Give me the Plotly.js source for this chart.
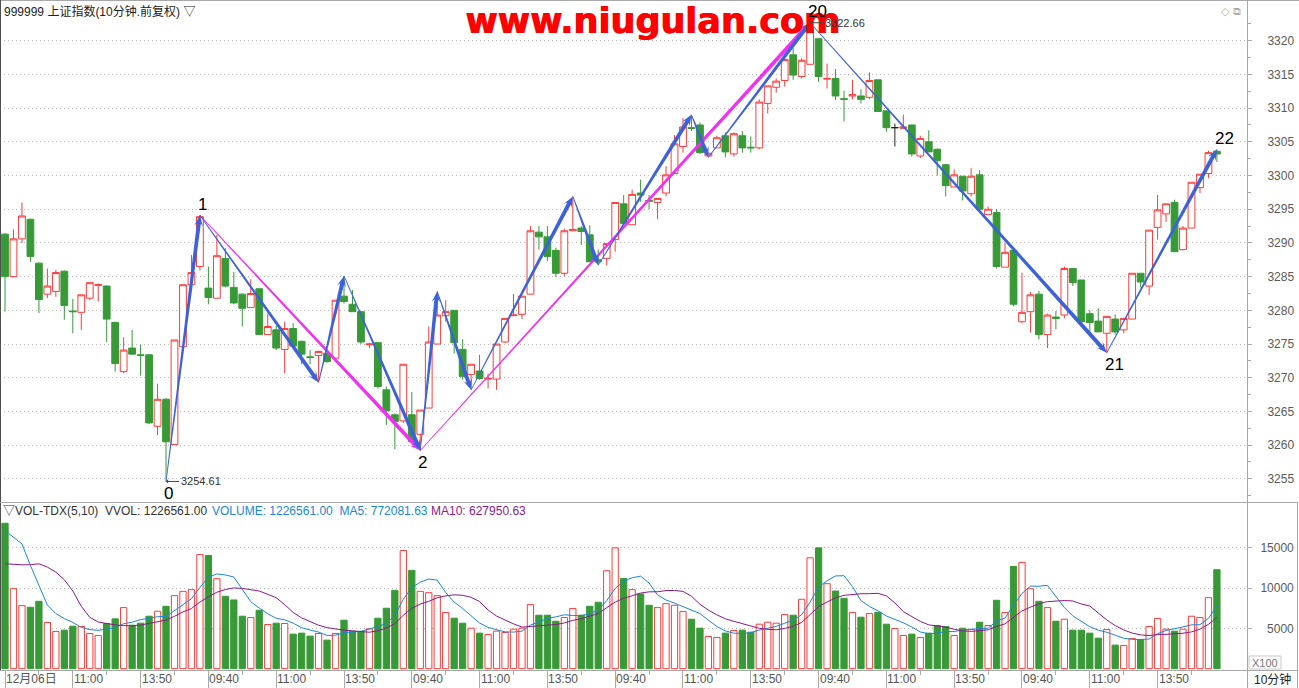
<!DOCTYPE html>
<html><head><meta charset="utf-8">
<script src="https://cdn.plot.ly/plotly-3.0.1.min.js"></script>
<style>html,body{margin:0;padding:0;background:#fff;overflow:hidden}#chart{width:1299px;height:688px}</style>
</head><body><div id="chart"></div>
<script>
// ---------------- data ----------------
const opens = [3291.3,3285.0,3290.6,3293.5,3287.0,3282.4,3282.8,3285.8,3279.9,3279.7,3281.8,3283.7,3283.6,3278.2,3270.9,3274.4,3273.4,3273.4,3262.8,3266.8,
3260.1,3274.6,3283.8,3286.5,3283.3,3281.8,3287.7,3283.4,3282.4,3280.4,3283.2,3276.4,3277.1,3274.2,3277.3,3275.4,3273.1,3273.3,3273.6,3272.9,
3282.1,3280.9,3279.8,3274.9,3275.2,3268.2,3264.5,3263.6,3264.5,3261.6,3265.5,3275.0,3279.2,3280.0,3274.2,3270.5,3271.0,3269.8,3269.8,3275.3,
3279.2,3279.4,3282.4,3291.6,3290.9,3288.9,3285.5,3291.8,3292.2,3291.2,3287.5,3287.7,3290.5,3295.8,3292.7,3297.4,3296.3,3296.0,3297.4,3300.3,
3304.3,3307.1,3307.5,3302.9,3304.1,3305.9,3303.2,3305.9,3304.2,3304.1,3310.7,3313.1,3314.1,3317.9,3314.7,3316.5,3320.3,3314.3,3314.4,3311.4,
3311.8,3311.8,3311.6,3314.2,3309.6,3307.1,3307.0,3307.5,3302.9,3305.0,3303.9,3301.6,3298.3,3299.9,3297.3,3300.1,3294.2,3294.5,3286.4,3288.9,
3278.3,3279.8,3282.4,3276.4,3279.0,3279.3,3286.2,3284.5,3279.5,3278.4,3276.6,3278.7,3277.1,3278.7,3285.5,3283.6,3292.3,3294.3,3296.0,3289.0,
3292.2,3298.2,3300.3,3303.6];
const highs = [3291.5,3292.0,3296.0,3293.6,3287.1,3286.2,3286.0,3285.9,3281.7,3282.3,3284.1,3284.0,3283.7,3278.3,3276.0,3277.1,3274.9,3273.5,3269.1,3267.0,
3275.6,3283.8,3288.2,3294.1,3286.5,3291.2,3289.2,3285.7,3282.5,3284.6,3283.2,3279.5,3277.7,3278.3,3278.1,3275.5,3274.1,3274.0,3273.6,3281.5,
3285.1,3283.0,3279.8,3275.2,3275.2,3268.7,3264.7,3272.0,3267.9,3265.2,3277.6,3282.8,3281.5,3280.0,3275.7,3272.0,3273.4,3270.6,3275.0,3278.8,
3282.4,3282.1,3292.5,3292.5,3292.5,3289.3,3292.1,3296.9,3292.5,3292.6,3289.0,3289.9,3296.0,3297.1,3297.9,3299.4,3297.1,3296.6,3301.4,3306.0,
3308.5,3309.0,3307.9,3303.4,3305.9,3306.4,3306.4,3306.6,3305.8,3311.3,3313.3,3314.4,3317.6,3319.0,3317.4,3322.66,3320.3,3316.6,3315.8,3312.6,
3314.2,3312.8,3315.3,3314.2,3309.6,3307.7,3309.0,3307.5,3305.9,3306.7,3304.0,3301.7,3300.9,3299.9,3301.1,3300.8,3295.4,3295.0,3290.0,3288.9,
3285.6,3282.7,3282.9,3279.5,3279.9,3286.5,3286.2,3284.5,3280.0,3280.3,3279.1,3279.4,3278.8,3285.5,3285.5,3291.9,3297.1,3295.8,3296.4,3292.5,
3299.0,3300.2,3303.7,3303.9];
const lows = [3279.8,3284.9,3290.0,3287.2,3279.6,3281.8,3282.0,3278.6,3276.6,3277.1,3281.5,3281.3,3275.3,3270.9,3270.7,3273.5,3270.3,3263.1,3261.5,3254.61,
3260.1,3274.6,3283.8,3285.9,3280.9,3281.8,3283.4,3280.9,3277.6,3280.4,3276.4,3276.4,3274.1,3270.7,3274.7,3272.0,3272.0,3269.3,3272.2,3272.9,
3281.0,3279.8,3275.0,3274.4,3268.4,3263.0,3259.4,3263.3,3260.3,3259.2,3265.5,3275.0,3278.3,3273.6,3269.7,3268.2,3269.7,3268.4,3268.2,3275.2,
3279.2,3278.7,3282.4,3289.0,3287.3,3284.9,3285.1,3291.8,3289.7,3287.2,3286.7,3286.7,3288.7,3292.9,3292.7,3296.1,3295.0,3293.5,3296.9,3300.3,
3303.4,3306.6,3303.2,3302.7,3304.1,3302.7,3302.8,3303.4,3303.4,3303.9,3309.2,3312.3,3313.2,3314.2,3314.4,3316.5,3313.9,3312.9,3311.2,3308.0,
3311.3,3310.7,3311.3,3309.5,3306.5,3304.3,3306.9,3302.8,3302.6,3303.5,3300.0,3296.9,3298.3,3296.3,3296.9,3295.0,3294.2,3286.2,3286.4,3280.6,
3278.1,3276.7,3275.7,3274.4,3277.2,3278.8,3283.6,3278.3,3276.8,3276.8,3273.7,3276.4,3276.6,3278.7,3283.4,3282.3,3290.5,3293.1,3288.7,3288.9,
3292.2,3297.4,3299.6,3302.0];
const closes = [3285.0,3290.6,3294.0,3288.0,3281.6,3283.6,3285.6,3280.7,3279.8,3282.3,3284.1,3283.8,3278.7,3272.1,3274.1,3273.5,3273.3,3263.3,3266.8,3260.5,
3275.6,3283.8,3285.6,3293.9,3281.9,3288.1,3283.6,3281.1,3280.3,3282.5,3276.4,3277.6,3274.4,3277.3,3274.7,3273.5,3273.0,3273.9,3272.4,3281.5,
3281.3,3279.8,3275.3,3275.0,3268.7,3265.1,3263.5,3272.0,3260.5,3265.2,3275.3,3279.3,3279.8,3275.2,3270.2,3272.0,3269.9,3269.9,3275.0,3278.8,
3279.3,3282.1,3291.8,3290.9,3288.0,3285.5,3291.8,3292.0,3291.7,3287.2,3287.2,3289.9,3296.0,3292.9,3297.2,3297.1,3296.2,3296.6,3300.1,3304.7,
3307.2,3307.0,3303.4,3303.3,3305.6,3303.5,3306.2,3304.1,3304.1,3310.9,3313.3,3314.0,3317.2,3314.9,3317.1,3322.0,3314.7,3314.4,3311.8,3311.3,
3312.0,3311.3,3314.1,3309.5,3307.1,3307.1,3307.2,3303.2,3305.5,3303.5,3302.2,3298.5,3300.1,3297.7,3299.9,3295.0,3295.0,3286.5,3288.6,3280.9,
3279.7,3282.3,3276.4,3279.3,3278.8,3286.2,3284.1,3278.3,3278.2,3276.8,3279.1,3276.8,3278.8,3285.5,3284.2,3291.9,3294.9,3295.8,3288.7,3292.2,
3299.0,3300.2,3303.4,3303.2];
// volume in units of 100 (axis "X100")
const volumes = [18024,9917,7819,7613,8353,5720,4609,4773,5267,5226,4362,4115,5596,6173,7572,5391,5638,6502,7119,7736,
9053,9588,9794,14156,14032,11152,8971,8518,6502,6337,7242,5473,5638,5596,4280,4403,4033,4362,3539,4362,
6008,4650,4609,4938,6255,7489,9711,14649,12180,9588,9423,9053,6954,6255,5638,5020,4403,4238,4650,4485,
4897,5020,7942,6625,6625,5884,6337,7448,6625,7736,8230,12139,14979,11193,9794,9259,7860,7572,8065,7860,
7078,6131,5020,3992,3868,4403,4732,4773,4527,5514,5761,5638,6707,6625,8600,13744,14979,10534,9629,8724,
6954,6378,6831,6996,5514,4979,4115,4280,3868,4403,5350,5226,4115,5020,4856,5761,5350,8477,6954,12674,
13168,9917,8353,7572,5884,6131,4773,4773,4403,3786,4856,2922,2881,3745,3621,5226,6214,4897,4650,4897,
6502,6337,8806,12266];
// moving-average values at the start of the window (prior bars are off-chart)
const volMa5Head = [17118,16295,15472,12798];
const volMa10Head = [13003,12921,12880,12880,13003,12592,11975,11028,9629];

const tickIdx = [0,8,16,24,32,40,48,56,64,72,80,88,96,104,112,120,128,136];
const tickLabels = ['12月06日','11:00','13:50','09:40','11:00','13:50','09:40','11:00','13:50','09:40','11:00','13:50','09:40','11:00','13:50','09:40','11:00','13:50'];
const priceTicks = [3255,3260,3265,3270,3275,3280,3285,3290,3295,3300,3305,3310,3315,3320];
const volTicks = [5000,10000,15000];
const volTickText = ['\u20075000','10000','15000'];

const bluePivots = [19,23,37,40,49,51,55,67,70,81,83,95,130,143];
const bluePivotKinds = ['L','H','L','H','L','H','L','H','L','H','L','H','L','H'];
const magentaPivots = [23,49,95];
const magentaPivotKinds = ['H','L','H'];
const waveLabelIdx = [19,23,49,95,130,143];
const waveLabelKinds = ['L','H','L','H','L','H'];
const waveLabels = ['0','1','2','20','21','22'];

const titleText = '999999 上证指数(10分钟.前复权) ▽';
const volHead1 = '▽VOL-TDX(5,10)  VVOL: 1226561.00';
const volHead2 = 'VOLUME: 1226561.00  MA5: 772081.63';
const volHead3 = 'MA10: 627950.63';
const watermark = 'www.niugulan.com';

// ---------------- geometry ----------------
const FW = 1299, FH = 688, ML = 0, MR = 52, MT = 0, MB = 18;
const PW = FW - ML - MR, PHT = FH - MT - MB; // plot area 1247 x 670
const priceBottomPx = 501, volTopPx = 503;
const xr = [-0.59, 146.55];
const pr = [3251.71, 3326.04];
const vr = [-165, 20538];
const pxX = px => px / PW;
const pxY = py => (PHT - py) / PHT;

const idx = opens.map((_, i) => i);
const RED = '#ff3b3b', GREEN = '#379a37', BLUE = '#3d62d8', MAG = '#f032f0';

function pick(arr, cond) { return arr.filter((_, i) => cond(i)); }
const isUp = i => closes[i] > opens[i];
const isDn = i => closes[i] < opens[i];
const isFlat = i => closes[i] === opens[i];

function candle(cond, name, incColor, incFill, decColor, decFill) {
  return {
    type: 'candlestick', name, xaxis: 'x', yaxis: 'y',
    x: pick(idx, cond), open: pick(opens, cond), high: pick(highs, cond), low: pick(lows, cond), close: pick(closes, cond),
    increasing: {line: {color: incColor, width: 1}, fillcolor: incFill},
    decreasing: {line: {color: decColor, width: 1}, fillcolor: decFill},
    whiskerwidth: 0, hoverinfo: 'skip', showlegend: false
  };
}

const volUp = i => closes[i] >= opens[i];
const volDn = i => closes[i] < opens[i];
function ma(n, head) {
  return volumes.map((v, i) => {
    if (i < head.length) return head[i];
    let s = 0; for (let k = i - n + 1; k <= i; k++) s += volumes[k];
    return s / n;
  });
}

const traces = [
  candle(isUp, 'up', RED, '#ffffff', RED, '#ffffff'),
  candle(isDn, 'down', GREEN, GREEN, GREEN, GREEN),
  candle(isFlat, 'flat', '#222222', '#222222', '#222222', '#222222'),
  {type: 'bar', xaxis: 'x', yaxis: 'y2', x: pick(idx, volUp), y: pick(volumes, volUp), width: 0.74,
   marker: {color: '#ffffff', line: {color: RED, width: 1}}, hoverinfo: 'skip', showlegend: false},
  {type: 'bar', xaxis: 'x', yaxis: 'y2', x: pick(idx, volDn), y: pick(volumes, volDn), width: 0.74,
   marker: {color: GREEN, line: {color: GREEN, width: 1}}, hoverinfo: 'skip', showlegend: false},
  {type: 'scatter', mode: 'lines', xaxis: 'x', yaxis: 'y2', x: idx, y: ma(5, volMa5Head),
   line: {color: '#1a86dc', width: 1}, hoverinfo: 'skip', showlegend: false},
  {type: 'scatter', mode: 'lines', xaxis: 'x', yaxis: 'y2', x: idx, y: ma(10, volMa10Head),
   line: {color: '#8b1a8b', width: 1}, hoverinfo: 'skip', showlegend: false}
];

// tapered arrows (thin at start, thick toward the head) built in pixel space
const toPx = (i, p) => [(i - xr[0]) / (xr[1] - xr[0]) * PW, (pr[1] - p) / (pr[1] - pr[0]) * priceBottomPx];
const toData = (px, py) => [xr[0] + px / PW * (xr[1] - xr[0]), pr[1] - py / priceBottomPx * (pr[1] - pr[0])];
function arrowPath(i0, p0, i1, p1, w0, w1, L, N, HW) {
  const [x0, y0] = toPx(i0, p0), [x1, y1] = toPx(i1, p1);
  const dx = x1 - x0, dy = y1 - y0, len = Math.hypot(dx, dy);
  const ux = dx / len, uy = dy / len, nx = -uy, ny = ux;
  const bx = x1 - ux * N, by = y1 - uy * N, hx = x1 - ux * L, hy = y1 - uy * L;
  const pts = [[x0 + nx * w0 / 2, y0 + ny * w0 / 2], [bx + nx * w1 / 2, by + ny * w1 / 2], [hx + nx * HW, hy + ny * HW], [x1, y1],
               [hx - nx * HW, hy - ny * HW], [bx - nx * w1 / 2, by - ny * w1 / 2], [x0 - nx * w0 / 2, y0 - ny * w0 / 2]];
  return 'M' + pts.map(p => toData(p[0], p[1]).map(v => v.toFixed(5)).join(',')).join('L') + 'Z';
}
const pivotPrice = (i, k) => k === 'H' ? highs[i] : lows[i];
const shapes = [];
function addWave(piv, kinds, color, w0, w1) {
  for (let s = 0; s + 1 < piv.length; s++) {
    shapes.push({type: 'path', xref: 'x', yref: 'y', layer: 'above',
      path: arrowPath(piv[s], pivotPrice(piv[s], kinds[s]), piv[s + 1], pivotPrice(piv[s + 1], kinds[s + 1]), w0, w1, 11, 8, 4.5),
      fillcolor: color, line: {width: 0}});
  }
}
addWave(magentaPivots, magentaPivotKinds, MAG, 0.8, 4);
addWave(bluePivots, bluePivotKinds, BLUE, 0.8, 4);

// frame lines
const frameColor = '#a8a8a8';
function hline(py, x0px, x1px, color) { shapes.push({type: 'line', xref: 'paper', yref: 'paper', x0: pxX(x0px), x1: pxX(x1px), y0: pxY(py), y1: pxY(py), line: {color: color || frameColor, width: 1}}); }
function vline(px, y0px, y1px, color) { shapes.push({type: 'line', xref: 'paper', yref: 'paper', x0: pxX(px), x1: pxX(px), y0: pxY(y0px), y1: pxY(y1px), line: {color: color || frameColor, width: 1}}); }
hline(0.5, 0, FW);
vline(0.5, 0, 670, '#505050');
vline(1247.5, 0, 688);
hline(502.5, 0, 1297.5);
hline(670.5, 0, 1297.5);
vline(1297.5, 502.5, 688);
shapes.push({type: 'rect', xref: 'paper', yref: 'paper', x0: pxX(1249), x1: pxX(1281), y0: pxY(669), y1: pxY(656), line: {color: '#c8c8c8', width: 1}});

// annotations
const FONT = 'Liberation Sans, Arial, Noto Sans CJK SC, sans-serif';
const annotations = [];
[0, 1.2].forEach(dx => annotations.push({xref: 'paper', yref: 'paper', x: pxX(652), y: pxY(21), xshift: dx, xanchor: 'center', yanchor: 'middle', showarrow: false,
  text: '<b>' + watermark + '</b>', font: {family: 'DejaVu Sans, Liberation Sans, sans-serif', size: 35, color: '#ff0000'}}));
annotations.push({xref: 'paper', yref: 'paper', x: pxX(2), y: pxY(11), xanchor: 'left', yanchor: 'middle', showarrow: false,
  text: titleText, font: {family: FONT, size: 12, color: '#222'}});
annotations.push({xref: 'paper', yref: 'paper', x: pxX(1219), y: pxY(12), xanchor: 'left', yanchor: 'middle', showarrow: false,
  text: '◇ ⧉', font: {family: 'DejaVu Sans, sans-serif', size: 11, color: '#aaa'}});
annotations.push({xref: 'paper', yref: 'paper', x: pxX(1), y: pxY(511), xanchor: 'left', yanchor: 'middle', showarrow: false,
  text: volHead1, font: {family: FONT, size: 12, color: '#333'}});
annotations.push({xref: 'paper', yref: 'paper', x: pxX(210), y: pxY(511), xanchor: 'left', yanchor: 'middle', showarrow: false,
  text: volHead2, font: {family: FONT, size: 12, color: '#1a86dc'}});
annotations.push({xref: 'paper', yref: 'paper', x: pxX(429), y: pxY(511), xanchor: 'left', yanchor: 'middle', showarrow: false,
  text: volHead3, font: {family: FONT, size: 12, color: '#8b1a8b'}});
tickIdx.forEach((t, k) => annotations.push({xref: 'x', yref: 'paper', x: t, y: pxY(679.5), xanchor: 'left', yanchor: 'middle', xshift: -1,
  showarrow: false, text: tickLabels[k], font: {family: FONT, size: 12, color: '#555'}}));
annotations.push({xref: 'paper', yref: 'paper', x: pxX(1272), y: pxY(679.5), xanchor: 'center', yanchor: 'middle', showarrow: false,
  text: '10分钟', font: {family: FONT, size: 12, color: '#222'}});
annotations.push({xref: 'paper', yref: 'paper', x: pxX(1265), y: pxY(662.5), xanchor: 'center', yanchor: 'middle', showarrow: false,
  text: 'X100', font: {family: FONT, size: 11, color: '#777'}});
waveLabelIdx.forEach((t, k) => annotations.push({xref: 'x', yref: 'y', x: t, y: pivotPrice(t, waveLabelKinds[k]),
  xanchor: 'left', yanchor: 'middle', xshift: -4, yshift: waveLabelKinds[k] === 'H' ? 11 : -12, showarrow: false,
  text: waveLabels[k], font: {family: FONT, size: 17, color: '#000'}}));
// extreme price markers
const minLow = Math.min(...lows), maxHigh = Math.max(...highs);
const iMin = lows.indexOf(minLow), iMax = highs.indexOf(maxHigh);
[[iMin, minLow], [iMax, maxHigh]].forEach(([i, p]) => annotations.push({xref: 'x', yref: 'y', x: i, y: p,
  ax: 13, ay: 0, axref: 'pixel', ayref: 'pixel', showarrow: true, arrowhead: 1, arrowsize: 0.7, arrowwidth: 1, arrowcolor: '#444',
  xanchor: 'left', yanchor: 'middle', text: p.toFixed(2), font: {family: FONT, size: 11, color: '#333'}}));

const layout = {
  width: FW, height: FH, margin: {l: ML, r: MR, t: MT, b: MB, pad: 0},
  paper_bgcolor: '#ffffff', plot_bgcolor: '#ffffff', showlegend: false, hovermode: false,
  boxgap: 0.2, boxgroupgap: 0, barmode: 'overlay',
  xaxis: {domain: [0, 1], range: xr, anchor: 'y2', showgrid: false, zeroline: false, showline: false,
    tickmode: 'array', tickvals: tickIdx, ticktext: tickLabels, showticklabels: false,
    ticks: 'outside', ticklen: 17, tickcolor: '#aaa', tickwidth: 1,
    minor: {tickmode: 'linear', tick0: 4, dtick: 8, ticks: 'outside', ticklen: 4, tickcolor: '#aaa', showgrid: false},
    rangeslider: {visible: false}, fixedrange: true},
  yaxis: {domain: [pxY(priceBottomPx), 1], range: pr, side: 'right', anchor: 'x', zeroline: false, showline: false,
    tickmode: 'array', tickvals: priceTicks, ticks: 'outside', ticklen: 4, tickcolor: '#aaa',
    ticklabelstandoff: 13, tickfont: {family: FONT, size: 12, color: '#5a5a5a'},
    showgrid: true, gridcolor: '#b8b8b8', griddash: '1px,3px', gridwidth: 1,
    minor: {tickmode: 'linear', tick0: 3252.5, dtick: 5, ticks: 'outside', ticklen: 3, tickcolor: '#aaa', showgrid: false},
    fixedrange: true},
  yaxis2: {domain: [0, pxY(volTopPx)], range: vr, side: 'right', anchor: 'x', zeroline: false, showline: false,
    tickmode: 'array', tickvals: volTicks, ticktext: volTickText, ticks: 'outside', ticklen: 4, tickcolor: '#aaa',
    ticklabelstandoff: 6, tickfont: {family: FONT, size: 12, color: '#5a5a5a'},
    showgrid: true, gridcolor: '#b8b8b8', griddash: '1px,3px', gridwidth: 1, fixedrange: true},
  shapes, annotations
};

Plotly.newPlot('chart', traces, layout, {staticPlot: true, displayModeBar: false});
</script>
</body></html>
